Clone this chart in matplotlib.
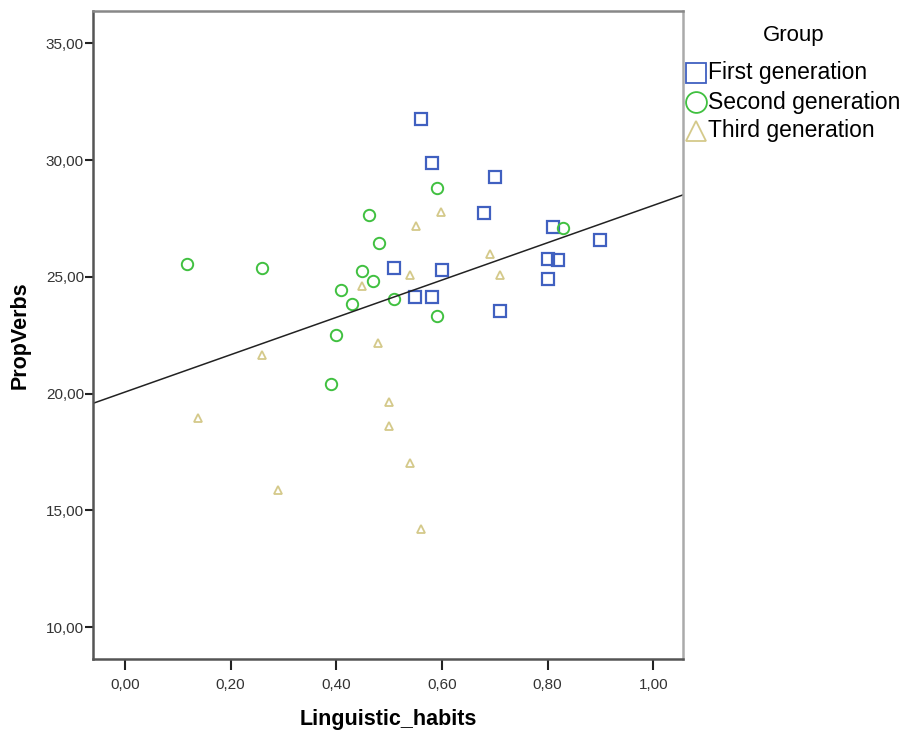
import matplotlib
matplotlib.use("Agg")
import matplotlib.pyplot as plt
from matplotlib.lines import Line2D
from matplotlib.ticker import FuncFormatter
import numpy as np

plt.rcParams['font.family'] = ['Liberation Sans', 'DejaVu Sans']

# First generation
first_x = [0.560, 0.581, 0.700, 0.680, 0.810, 0.900, 0.801, 0.820, 0.801, 0.509, 0.600, 0.549, 0.581, 0.710]
first_y = [31.75, 29.89, 29.26, 27.72, 27.15, 26.58, 25.75, 25.72, 24.91, 25.39, 25.30, 24.15, 24.13, 23.54]
# Second generation
second_x = [0.590, 0.830, 0.509, 0.590, 0.461, 0.480, 0.118, 0.259, 0.449, 0.469, 0.409, 0.430, 0.399, 0.389]
second_y = [28.79, 27.11, 24.04, 23.33, 27.65, 26.44, 25.55, 25.39, 25.25, 24.82, 24.44, 23.85, 22.50, 20.40]
# Third generation
third_x = [0.449, 0.479, 0.259, 0.599, 0.550, 0.690, 0.539, 0.710, 0.138, 0.500, 0.500, 0.539, 0.290, 0.560]
third_y = [24.61, 22.18, 21.66, 27.77, 27.18, 25.97, 25.08, 25.08, 18.97, 19.66, 18.62, 17.05, 15.88, 14.20]

# Fit line (total)
fit_intercept = 20.07
fit_slope = 7.99

labels = ["First generation", "Second generation", "Third generation"]
colors = ["#4060c0", "#40c040", "#d4c98a"]
markers = ['s', 'o', '^']

W, H = 911, 731
fig = plt.figure(figsize=(W/100, H/100), dpi=100)
ax = fig.add_axes([93/W, 1-659/H, (683-93)/W, (659-11)/H])

ax.plot(first_x, first_y, linestyle='none', marker='s', markersize=8.2, markerfacecolor='none',
        markeredgecolor=colors[0], markeredgewidth=1.6)
ax.plot(second_x, second_y, linestyle='none', marker='o', markersize=8.2, markerfacecolor='none',
        markeredgecolor=colors[1], markeredgewidth=1.4)
ax.plot(third_x, third_y, linestyle='none', marker='^', markersize=6, markerfacecolor='none',
        markeredgecolor=colors[2], markeredgewidth=1.3)

xmin, xmax = -0.0606, 1.0562
xs = np.array([xmin, xmax])
ax.plot(xs, fit_intercept + fit_slope*xs, color='#222222', linewidth=1.1)

ax.set_xlim(xmin, xmax)
ax.set_ylim(8.643, 36.38)
ax.set_xticks([0.0, 0.2, 0.4, 0.6, 0.8, 1.0])
ax.set_yticks([10, 15, 20, 25, 30, 35])
fmt = FuncFormatter(lambda v, p: f"{v:.2f}".replace('.', ','))
ax.xaxis.set_major_formatter(fmt)
ax.yaxis.set_major_formatter(fmt)
ax.tick_params(axis='y', length=5.5, width=1.5, color='#222222', labelsize=11, labelcolor='#333333', pad=1)
ax.tick_params(axis='x', length=8, width=1.5, color='#222222', labelsize=11, labelcolor='#333333', pad=6)
for s in ax.spines.values():
    s.set_color('#555555')
    s.set_linewidth(1.8)
ax.spines['right'].set_color('#aaaaaa')
ax.spines['top'].set_color('#888888')

ax.set_xlabel("Linguistic_habits", fontsize=15.5, fontweight='bold', labelpad=12)
ax.set_ylabel("PropVerbs", fontsize=15.5, fontweight='bold', labelpad=11)

# Legend (drawn manually in figure pixel coordinates)
fig.text(794/W, 1-35/H, "Group", fontsize=16, ha='center', va='center')
rows_y = [73, 102, 131]
for lab, col, mk, yy in zip(labels, colors, markers, rows_y):
    fig.add_artist(Line2D([696/W], [1-yy/H], transform=fig.transFigure, linestyle='none',
                          marker=mk, markersize=15, markerfacecolor='none',
                          markeredgecolor=col, markeredgewidth=1.3))
    fig.text(708/W, 1-yy/H, lab, fontsize=16.5, ha='left', va='center')

fig.savefig("out.png", dpi=100)
